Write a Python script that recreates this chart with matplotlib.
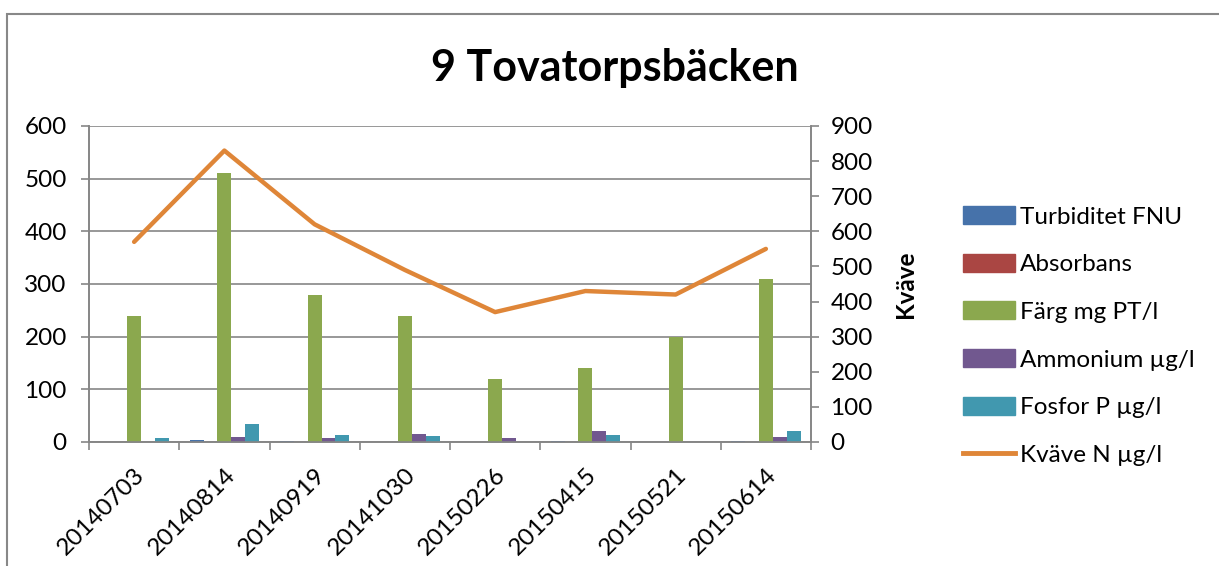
import matplotlib
matplotlib.use("Agg")
import matplotlib.pyplot as plt
import matplotlib.patches as mpatches
from matplotlib.lines import Line2D
import numpy as np

plt.rcParams['font.family'] = ['Lato', 'DejaVu Sans']

# data
dates = ["20140703", "20140814", "20140919", "20141030",
         "20150226", "20150415", "20150521", "20150614"]
turbiditet = [0, 4, 2, 0, 0, 2, 0, 1]
absorbans = [0, 0, 0, 0, 0, 0, 0, 0]
farg = [240, 510, 280, 240, 120, 140, 200, 310]
ammonium = [0, 9, 7, 15, 8, 21, 0, 9]
fosfor = [8, 35, 13, 11, 0, 13, 0, 20]
kvave = [570, 830, 620, 490, 370, 430, 420, 550]

bar_series = [
    ("Turbiditet FNU", turbiditet, "#4672AA"),
    ("Absorbans", absorbans, "#AA4643"),
    ("Färg mg PT/l", farg, "#8BA84E"),
    ("Ammonium µg/l", ammonium, "#71588F"),
    ("Fosfor P µg/l", fosfor, "#4198AF"),
]
line_color = "#DF8638"
grid_color = "#868686"
fs = 17.5

fig = plt.figure(figsize=(12.19, 5.66), dpi=100)
W, H = 1219, 566
ax = fig.add_axes([89 / W, 1 - 442 / H, (811 - 89) / W, (442 - 126) / H])
ax2 = ax.twinx()

x = np.arange(len(dates))
w = 1 / 6.5
for i, (name, vals, col) in enumerate(bar_series):
    ax.bar(x + (i - 2) * w, vals, width=w, color=col, label=name, zorder=3)

ax2.plot(x, kvave, color=line_color, lw=3.2, solid_capstyle="round", zorder=4)

ax.set_xlim(-0.5, len(dates) - 0.5)
ax.set_ylim(0, 600)
ax.set_yticks(range(0, 601, 100))
ax2.set_ylim(0, 900)
ax2.set_yticks(range(0, 901, 100))
ax.yaxis.grid(True, color=grid_color, lw=1.2, zorder=0)
ax.set_axisbelow(True)

ax.set_xticks(x)
ax.set_xticklabels(dates, rotation=45, ha="right", rotation_mode="anchor")
ax.set_xticks(np.arange(-0.5, len(dates), 1), minor=True)
ax.tick_params(axis="x", which="major", length=0, pad=16, labelsize=fs)
ax.tick_params(axis="x", which="minor", length=6, width=1.2, color=grid_color)
ax.tick_params(axis="y", length=6, width=1.2, color=grid_color, labelsize=fs, pad=10)
ax2.tick_params(axis="y", length=6, width=1.2, color=grid_color, labelsize=fs, pad=8)

for a in (ax, ax2):
    for s in a.spines.values():
        s.set_color(grid_color)
        s.set_linewidth(1.2)
    a.spines["top"].set_visible(False)

ax2.set_ylabel("Kväve", fontsize=fs, fontweight="bold")
ax2.yaxis.set_label_coords(1.115, 0.5)

fig.text(615 / W, 1 - 68 / H, "9 Tovatorpsbäcken", ha="center", va="center",
         fontsize=31, fontweight="bold")

handles = [mpatches.Patch(color=c, label=n) for n, _, c in bar_series]
handles.append(Line2D([0], [0], color=line_color, lw=3.5, label="Kväve N µg/l"))
fig.legend(handles=handles, loc="center left", bbox_to_anchor=(963 / W, 1 - 336 / H),
           frameon=False, fontsize=fs, handlelength=2.15, handleheight=0.75,
           labelspacing=1.08, handletextpad=0.2, borderpad=0, borderaxespad=0)

# chart border
fig.patches.append(mpatches.Rectangle((7 / W, -0.1), 1.2, 1 - 14 / H + 0.1,
                                      transform=fig.transFigure, fill=False,
                                      edgecolor="#888888", lw=1.5))

fig.savefig("out.png", dpi=100)
